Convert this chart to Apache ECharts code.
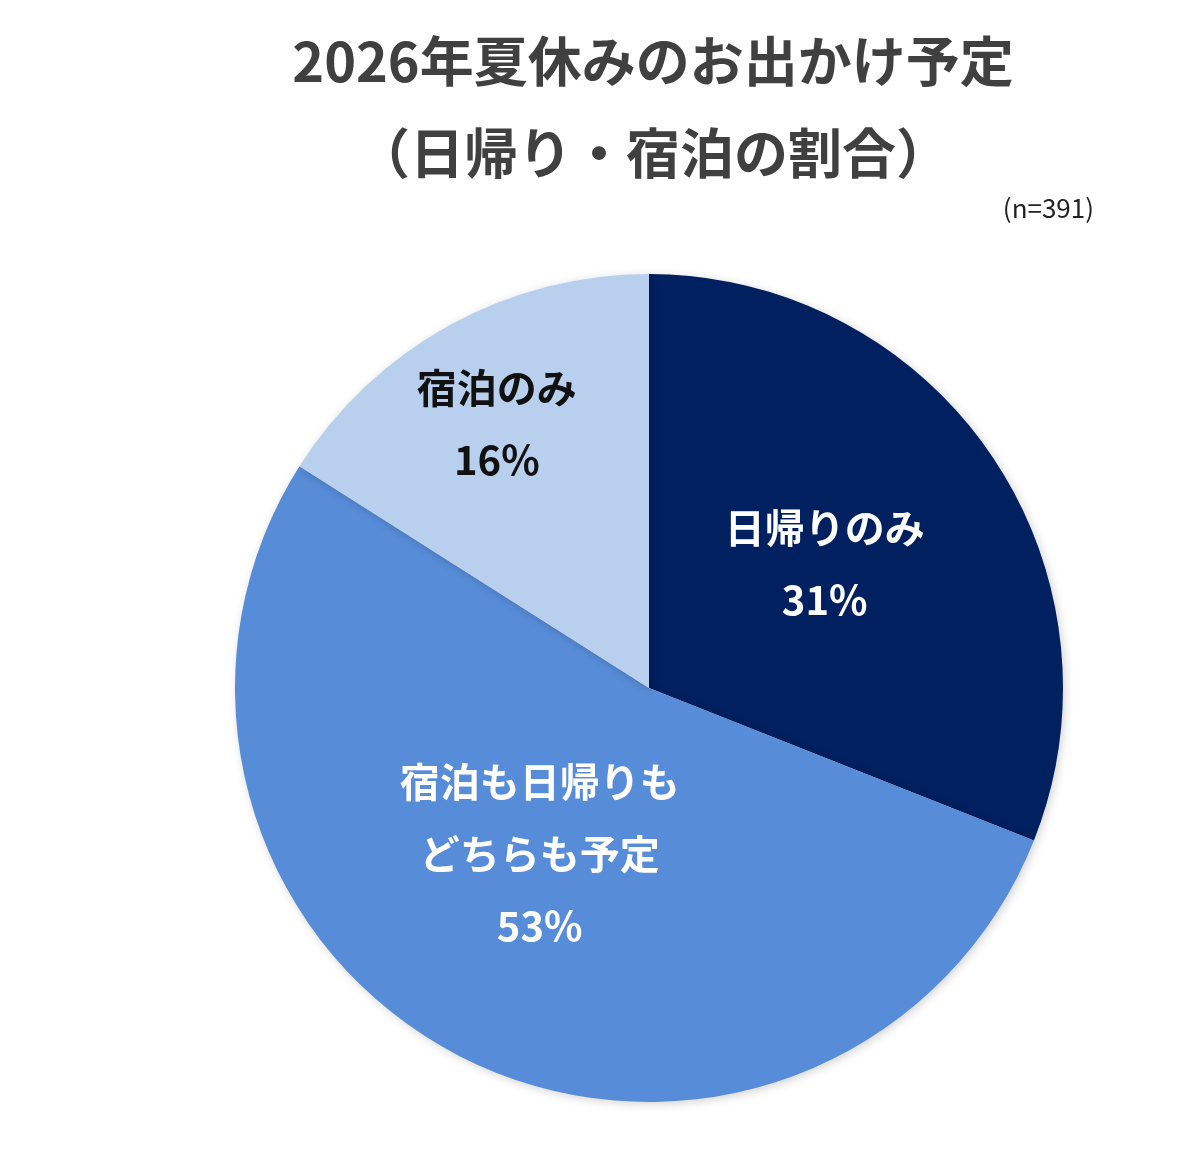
<!DOCTYPE html>
<html>
<head>
<meta charset="utf-8">
<script src="https://cdn.jsdelivr.net/npm/echarts@6/dist/echarts.min.js"></script>
<style>
	html, body { margin: 0; padding: 0; background: #FFFFFF; }
	#chart { width: 1200px; height: 1150px; }
</style>
</head>
<body>
<div id="chart"></div>
<script>
// 区分とパーセント
var categories = ['日帰りのみ', '宿泊も日帰りも\nどちらも予定', '宿泊のみ'];
var percents = [31, 53, 16];
var sliceColors = ['#002060', '#578CD8', '#B9CFEE'];
var labelColors = ['#FFFFFF', '#FFFFFF', '#111111'];
// ラベル位置の微調整
var labelOffsets = [[2, -6], [-14, -21], [-51, -80]];

var chart = echarts.init(document.getElementById('chart'));

var seriesData = categories.map(function(name, i) {
	return {
		name: name,
		value: percents[i],
		itemStyle: { color: sliceColors[i] },
		label: { color: labelColors[i], offset: labelOffsets[i] }
	};
});

var option = {
	backgroundColor: '#FFFFFF',
	animation: false,
	title: [
		{
			text: '2026年夏休みのお出かけ予定\n（日帰り・宿泊の割合）',
			left: 648,
			top: 10,
			textAlign: 'center',
			textStyle: {
				fontFamily: 'Noto Sans CJK JP',
				fontSize: 54,
				fontWeight: 'bold',
				color: '#404040',
				lineHeight: 92
			}
		},
		{
			text: '(n=391)',
			right: 101,
			top: 190,
			textStyle: {
				fontFamily: 'Noto Sans CJK JP',
				fontSize: 26,
				fontWeight: 'normal',
				color: '#222222'
			}
		}
	],
	series: [
		{
			type: 'pie',
			center: [649, 688],
			radius: [0, 414],
			startAngle: 90,
			clockwise: true,
			itemStyle: {
				borderWidth: 0,
				shadowBlur: 10,
				shadowColor: 'rgba(0, 0, 0, 0.18)',
				shadowOffsetX: 2,
				shadowOffsetY: 2
			},
			label: {
				show: true,
				position: 'inside',
				fontFamily: 'Noto Sans CJK JP',
				fontSize: 40,
				fontWeight: 'bold',
				lineHeight: 72,
				formatter: function(p) {
					return p.name + '\n' + p.value + '%';
				}
			},
			labelLine: { show: false },
			emphasis: { disabled: true },
			data: seriesData
		}
	]
};

chart.setOption(option);
</script>
</body>
</html>
